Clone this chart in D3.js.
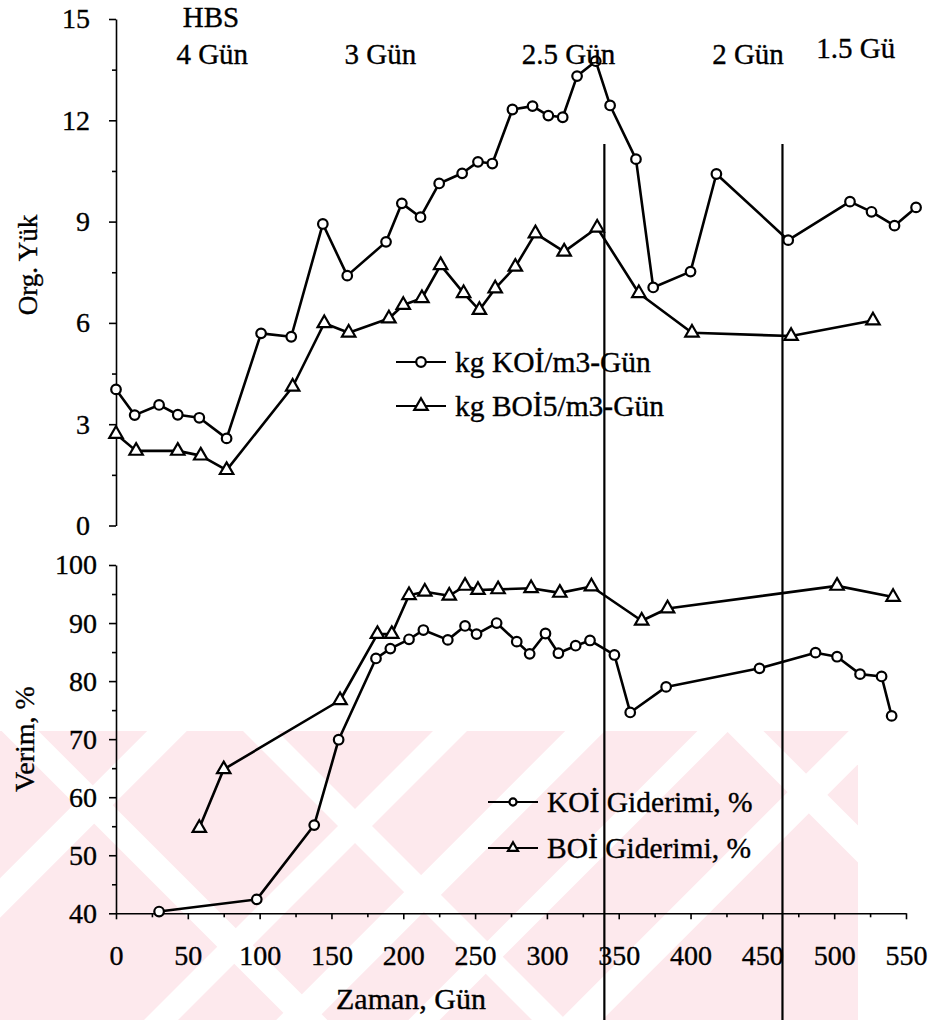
<!DOCTYPE html>
<html>
<head>
<meta charset="utf-8">
<script src="https://cdn.jsdelivr.net/npm/d3@7/dist/d3.min.js"></script>
<style>
  html, body { margin: 0; padding: 0; background: #fff; }
  svg { display: block; }
  text { font-family: "Liberation Serif", "Times New Roman", serif; fill: #000; stroke: #000; stroke-width: 0.35px; }
</style>
</head>
<body>
<svg id="chart" width="931" height="1020"></svg>
<script>
// Organic loading (kg/m3-day) versus time
const loadKoiDays = [0, 13, 30, 43, 58, 77, 101, 122, 144, 161, 188, 199, 212, 225, 241, 252, 262,
  276, 290, 301, 311, 321, 334, 344, 362, 374, 400, 418, 468, 511, 526, 542, 557];
const loadKoi = [4.03, 3.27, 3.57, 3.28, 3.19, 2.58, 5.69, 5.59, 8.93, 7.40, 8.40, 9.54, 9.13, 10.13,
  10.43, 10.77, 10.72, 12.32, 12.42, 12.14, 12.09, 13.31, 13.75, 12.44, 10.85, 7.05, 7.52, 10.41,
  8.45, 9.59, 9.29, 8.88, 9.42];

const loadBoiDays = [0, 14, 43, 59, 77, 123, 145, 162, 190, 200, 213, 226, 242, 253, 264, 278, 292,
  312, 335, 364, 401, 470, 527];
const loadBoi = [2.71, 2.21, 2.21, 2.07, 1.64, 4.11, 5.99, 5.71, 6.13, 6.53, 6.73, 7.71, 6.88, 6.38,
  7.02, 7.66, 8.65, 8.11, 8.82, 6.88, 5.71, 5.61, 6.07];

// Removal efficiency (%) versus time
const remKoiDays = [30, 98, 138, 155, 181, 191, 204, 214, 231, 243, 251, 265, 279, 288, 299, 308,
  320, 330, 347, 358, 383, 448, 487, 502, 518, 533, 540];
const remKoi = [40.3, 42.4, 55.2, 69.9, 83.9, 85.6, 87.2, 88.8, 87.1, 89.5, 88.1, 90.0, 86.8, 84.7,
  88.2, 84.8, 86.1, 87.0, 84.5, 74.6, 79.0, 82.2, 84.9, 84.2, 81.2, 80.8, 74.0];

const remBoiDays = [58, 75, 156, 182, 192, 204, 215, 232, 243, 252, 266, 289, 309, 331, 366, 384, 502, 541];
const remBoi = [54.7, 64.8, 76.7, 88.1, 88.1, 94.8, 95.4, 94.7, 96.4, 95.7, 95.8, 96.0, 95.2, 96.3,
  90.4, 92.5, 96.4, 94.5];

// Hydraulic retention time phases
const phaseLabels = ["4 Gün", "3 Gün", "2.5 Gün", "2 Gün", "1.5 Gü"];
const phaseLabelDays = [67, 184, 315, 440, 515];
const phaseBounds = [340, 464];

// Tick values
const loadTicks = [0, 3, 6, 9, 12, 15];
const effTicks = [40, 50, 60, 70, 80, 90, 100];
const dayTicks = [0, 50, 100, 150, 200, 250, 300, 350, 400, 450, 500, 550];

const svg = d3.select("#chart");
const W = 931, H = 1020;

const x = d3.scaleLinear().domain([0, 550]).range([116, 906]);
const yLoad = d3.scaleLinear().domain([0, 15]).range([525.5, 19]);
const yEff = d3.scaleLinear().domain([40, 100]).range([913.3, 565]);

// Pale watermark band behind the lower panel
const wmTop = 731, wmRight = 858;
const defs = svg.append("defs");
defs.append("clipPath").attr("id", "wm-clip")
  .append("rect").attr("x", 0).attr("y", wmTop).attr("width", wmRight).attr("height", H - wmTop);
const wm = svg.append("g").attr("clip-path", "url(#wm-clip)");
wm.append("rect").attr("x", 0).attr("y", wmTop).attr("width", wmRight).attr("height", H - wmTop)
  .attr("fill", "#fde9ed");
const span = H - wmTop;
// rising stripes: [x at top edge, width]
[[167, 28], [450, 24], [585, 28], [713, 22], [870, 30]].forEach(([t, w]) => {
  wm.append("line").attr("x1", t + span * 0.1).attr("y1", wmTop - span * 0.1)
    .attr("x2", t - span * 1.1).attr("y2", H + span * 0.1)
    .attr("stroke", "#fff").attr("stroke-width", w);
});
// falling stripes
[[20, 26], [260, 24], [745, 26]].forEach(([t, w]) => {
  wm.append("line").attr("x1", t - span * 0.1).attr("y1", wmTop - span * 0.1)
    .attr("x2", t + span * 1.1).attr("y2", H + span * 0.1)
    .attr("stroke", "#fff").attr("stroke-width", w);
});

const fs = 28;

function styleAxis(g) {
  g.selectAll("path.domain").attr("stroke", "#000").attr("stroke-width", 1.6);
  g.selectAll(".tick line").attr("stroke", "#000").attr("stroke-width", 1.6);
  g.selectAll(".tick text").attr("font-size", fs).attr("font-family", "Liberation Serif").attr("fill", "#000");
}

// Upper panel axis
const upAxis = svg.append("g").attr("transform", `translate(${x(0)},0)`)
  .call(d3.axisLeft(yLoad).tickValues(loadTicks).tickSize(7).tickPadding(19).tickSizeOuter(0)
    .tickFormat(d3.format("d")));
styleAxis(upAxis);
const upMinor = svg.append("g").attr("transform", `translate(${x(0)},0)`)
  .call(d3.axisLeft(yLoad).tickValues(d3.range(1.5, 15, 3)).tickSize(4).tickFormat(""));
upMinor.select("path.domain").remove();
styleAxis(upMinor);

// Lower panel axes
const lowAxis = svg.append("g").attr("transform", `translate(${x(0)},0)`)
  .call(d3.axisLeft(yEff).tickValues(effTicks).tickSize(7).tickPadding(12).tickSizeOuter(0)
    .tickFormat(d3.format("d")));
styleAxis(lowAxis);
const lowMinor = svg.append("g").attr("transform", `translate(${x(0)},0)`)
  .call(d3.axisLeft(yEff).tickValues(d3.range(45, 100, 10)).tickSize(4).tickFormat(""));
lowMinor.select("path.domain").remove();
styleAxis(lowMinor);

const xAxis = svg.append("g").attr("transform", `translate(0,${yEff(40)})`)
  .call(d3.axisBottom(x).tickValues(dayTicks).tickSize(6).tickPadding(26).tickSizeOuter(0)
    .tickFormat(d3.format("d")));
styleAxis(xAxis);
const xMinor = svg.append("g").attr("transform", `translate(0,${yEff(40)})`)
  .call(d3.axisBottom(x).tickValues(d3.range(25, 550, 50)).tickSize(4).tickFormat(""));
xMinor.select("path.domain").remove();
styleAxis(xMinor);

// Phase boundaries
svg.append("g").selectAll("line").data(phaseBounds).join("line")
  .attr("x1", d => x(d)).attr("x2", d => x(d))
  .attr("y1", yLoad(11.3)).attr("y2", H)
  .attr("stroke", "#000").attr("stroke-width", 2.2);

// Series drawing
const circle = d3.symbol().type(d3.symbolCircle);
const tri = d3.symbol().type(d3.symbolTriangle);

function series(days, vals, yScale, kind) {
  const pts = days.map((d, i) => [x(d), yScale(vals[i])]);
  svg.append("path").attr("d", d3.line()(pts))
    .attr("fill", "none").attr("stroke", "#000").attr("stroke-width", 2.6)
    .attr("stroke-linejoin", "round");
  const sym = kind === "circle" ? circle.size(72)() : tri.size(78)();
  svg.append("g").selectAll("path").data(pts).join("path")
    .attr("transform", d => `translate(${d[0]},${d[1]})`)
    .attr("d", sym)
    .attr("fill", "#fff").attr("stroke", "#000").attr("stroke-width", 2.2);
}

series(loadKoiDays, loadKoi, yLoad, "circle");
series(loadBoiDays, loadBoi, yLoad, "tri");
series(remKoiDays, remKoi, yEff, "circle");
series(remBoiDays, remBoi, yEff, "tri");

// Legends
function legend(items, x0, y0, step, markSize, textFs) {
  items.forEach((it, i) => {
    const yy = y0 + i * step;
    svg.append("line").attr("x1", x0).attr("x2", x0 + 50).attr("y1", yy).attr("y2", yy)
      .attr("stroke", "#000").attr("stroke-width", 2.2);
    const sym = it.kind === "circle" ? circle.size(markSize)() : tri.size(markSize * 1.1)();
    svg.append("path").attr("transform", `translate(${x0 + 25},${yy})`).attr("d", sym)
      .attr("fill", "#fff").attr("stroke", "#000").attr("stroke-width", 2.2);
    svg.append("text").attr("x", x0 + 59).attr("y", yy).attr("dy", "0.33em")
      .attr("font-size", textFs).text(it.label);
  });
}
legend([{ kind: "circle", label: "kg KOİ/m3-Gün" }, { kind: "tri", label: "kg BOİ5/m3-Gün" }],
  396, 362, 44, 72, 29.5);
legend([{ kind: "circle", label: "KOİ Giderimi, %" }, { kind: "tri", label: "BOİ Giderimi, %" }],
  488, 802, 46, 40, 29.5);

// Retention time annotations
svg.append("text").attr("x", 211).attr("y", 27).attr("text-anchor", "middle")
  .attr("font-size", 29).text("HBS");
svg.append("g").selectAll("text").data(phaseLabels).join("text")
  .attr("x", (d, i) => x(phaseLabelDays[i]))
  .attr("y", (d, i) => i === 4 ? 58 : 64)
  .attr("text-anchor", "middle").attr("font-size", 29).text(d => d);

// Axis titles
svg.append("text").attr("transform", `translate(37,265) rotate(-90)`).attr("text-anchor", "middle")
  .attr("font-size", 27).text("Org. Yük");
svg.append("text").attr("transform", `translate(34,739) rotate(-90)`).attr("text-anchor", "middle")
  .attr("font-size", 28).text("Verim, %");
svg.append("text").attr("x", 411).attr("y", 1009).attr("text-anchor", "middle")
  .attr("font-size", 30).text("Zaman, Gün");
</script>
</body>
</html>
